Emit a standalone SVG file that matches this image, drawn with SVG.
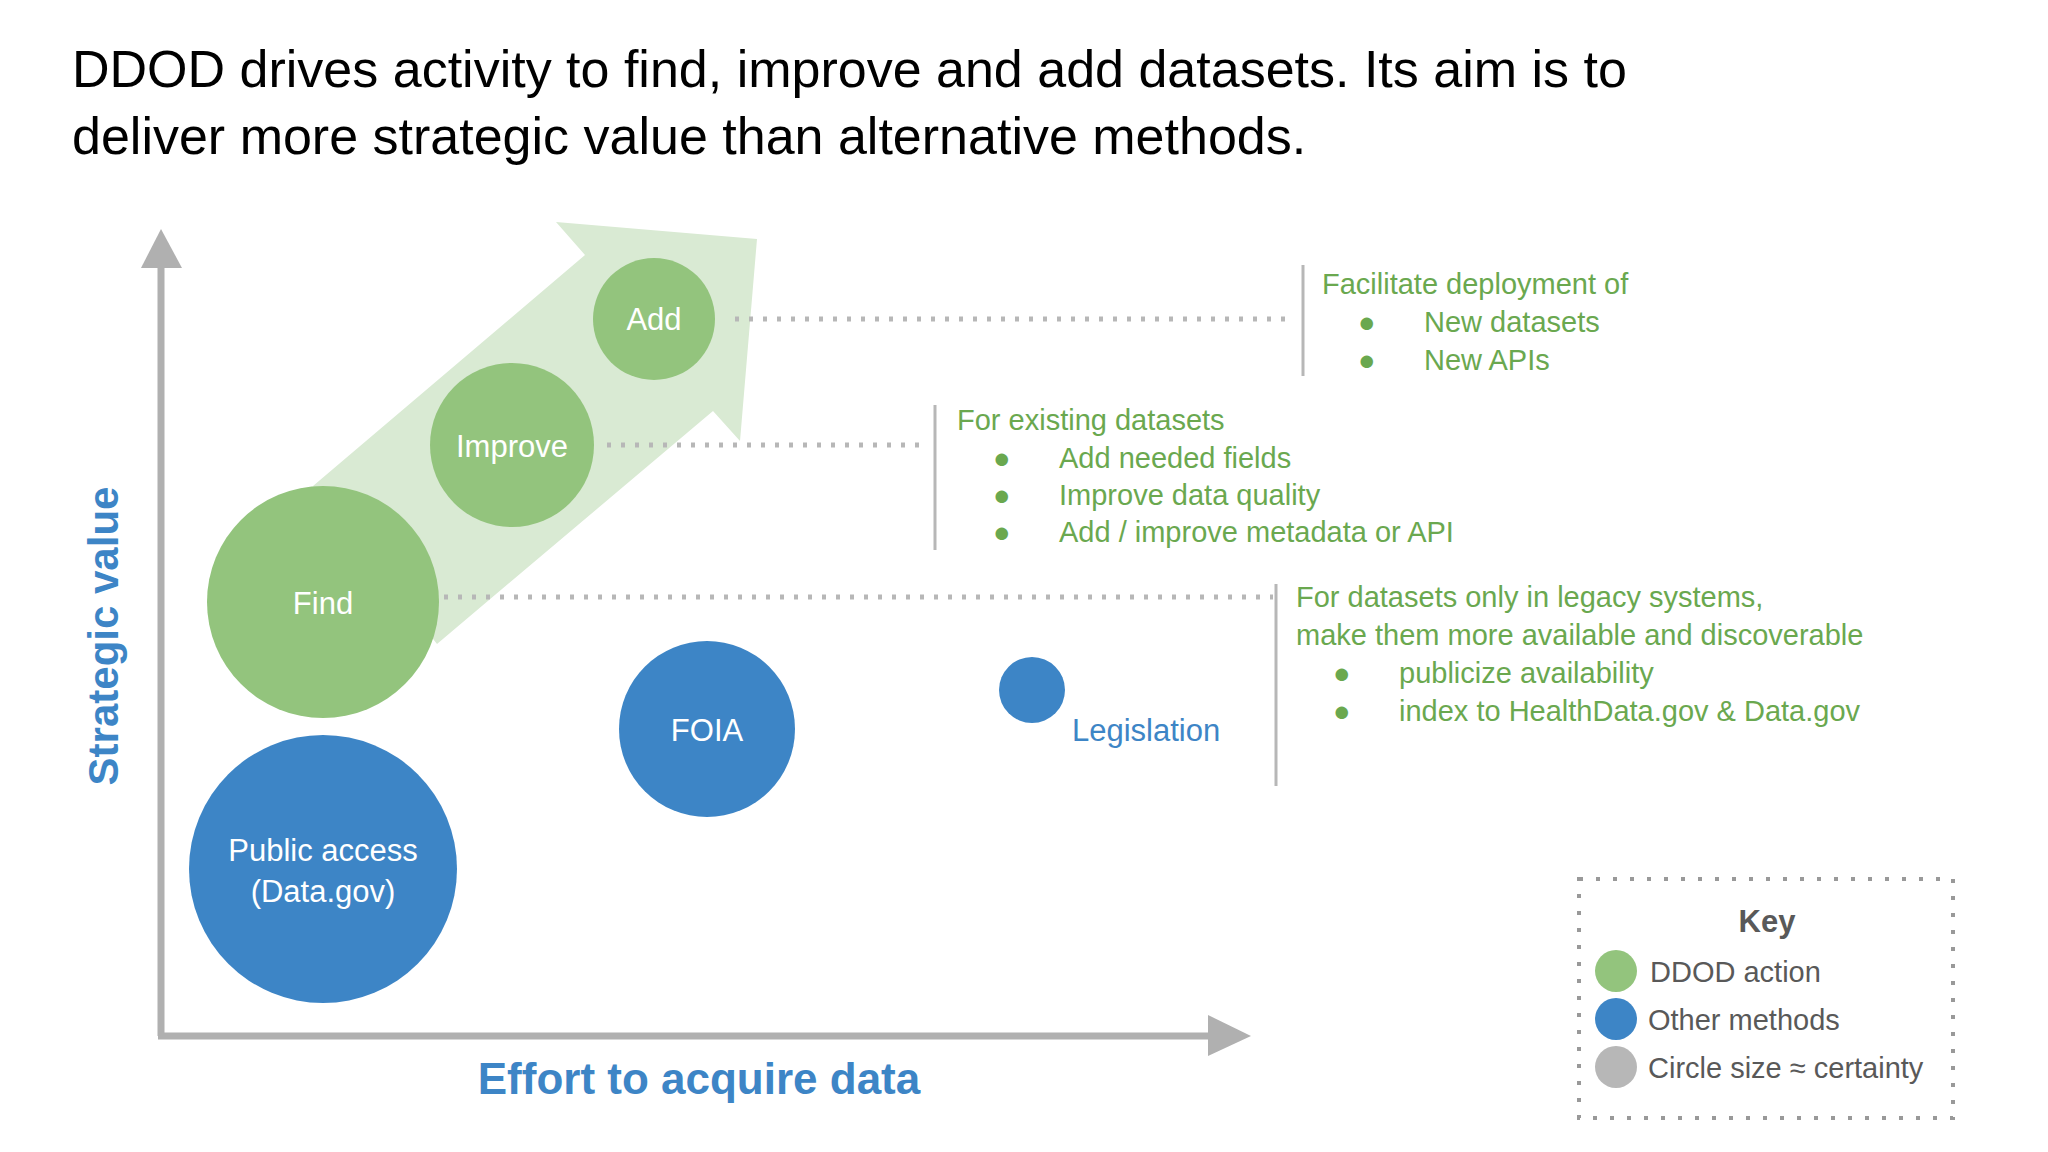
<svg xmlns="http://www.w3.org/2000/svg" width="2048" height="1152" viewBox="0 0 2048 1152">
<style>
text{font-family:"Liberation Sans",Arial,sans-serif}
.g{fill:#93c47d}.b{fill:#3d85c6}
.lbl{fill:#fff;font-size:31px;text-anchor:middle}
.gt{fill:#6aa84f;font-size:29px}
.dot{stroke:#b7b7b7;stroke-width:5;stroke-dasharray:4 10;fill:none}
.bar{stroke:#b7b7b7;stroke-width:3}
.kt{fill:#595959;font-size:29px}
</style>
<rect width="2048" height="1152" fill="#fff"/>
<text x="72" y="87" font-size="52" fill="#000">DDOD drives activity to find, improve and add datasets.  Its aim is to</text>
<text x="72" y="154" font-size="52" fill="#000">deliver more strategic value than alternative methods.</text>
<g id="axes">
<line x1="161" y1="262" x2="161" y2="1036" stroke="#b0b0b0" stroke-width="7"/>
<polygon points="141,268 161,229 182,268" fill="#b0b0b0"/>
<line x1="158" y1="1036" x2="1212" y2="1036" stroke="#b0b0b0" stroke-width="7"/>
<polygon points="1208,1015 1251,1036 1208,1056" fill="#b0b0b0"/>
<text x="0" y="0" transform="translate(118,636) rotate(-90)" font-size="42" font-weight="bold" fill="#3d85c6" text-anchor="middle">Strategic value</text>
<text x="699" y="1094" font-size="44" font-weight="bold" fill="#3d85c6" text-anchor="middle">Effort to acquire data</text>
</g>
<polygon id="arrow" points="313,486 585,255 556,222 757,239 740,441 713,411 437,644" fill="#d9ead3"/>
<g id="connectors">
<line class="dot" x1="735" y1="319" x2="1286" y2="319"/>
<line class="dot" x1="607" y1="445" x2="927" y2="445"/>
<line class="dot" x1="444" y1="597" x2="1273" y2="597"/>
<line class="bar" x1="1303" y1="265" x2="1303" y2="376"/>
<line class="bar" x1="935" y1="405" x2="935" y2="550"/>
<line class="bar" x1="1276" y1="584" x2="1276" y2="786"/>
</g>
<g id="add"><circle class="g" cx="654" cy="319" r="61"/><text class="lbl" x="654" y="330">Add</text></g>
<g id="improve"><circle class="g" cx="512" cy="445" r="82"/><text class="lbl" x="512" y="457">Improve</text></g>
<g id="find"><circle class="g" cx="323" cy="602" r="116"/><text class="lbl" x="323" y="614">Find</text></g>
<g id="foia"><circle class="b" cx="707" cy="729" r="88"/><text class="lbl" x="707" y="741">FOIA</text></g>
<g id="public"><circle class="b" cx="323" cy="869" r="134"/><text class="lbl" x="323" y="861">Public access</text><text class="lbl" x="323" y="902">(Data.gov)</text></g>
<g id="legislation"><circle class="b" cx="1032" cy="690" r="33"/><text x="1072" y="741" font-size="31" fill="#3d85c6">Legislation</text></g>
<g id="note-add">
<text class="gt" x="1322" y="294">Facilitate deployment of</text>
<text class="gt" x="1358" y="332">●</text><text class="gt" x="1424" y="332">New datasets</text>
<text class="gt" x="1358" y="370">●</text><text class="gt" x="1424" y="370">New APIs</text>
</g>
<g id="note-improve">
<text class="gt" x="957" y="430">For existing datasets</text>
<text class="gt" x="993" y="468">●</text><text class="gt" x="1059" y="468">Add needed fields</text>
<text class="gt" x="993" y="505">●</text><text class="gt" x="1059" y="505">Improve data quality</text>
<text class="gt" x="993" y="542">●</text><text class="gt" x="1059" y="542">Add / improve metadata or API</text>
</g>
<g id="note-find">
<text class="gt" x="1296" y="607">For datasets only in legacy systems,</text>
<text class="gt" x="1296" y="645">make them more available and discoverable</text>
<text class="gt" x="1333" y="683">●</text><text class="gt" x="1399" y="683">publicize availability</text>
<text class="gt" x="1333" y="721">●</text><text class="gt" x="1399" y="721">index to HealthData.gov &amp; Data.gov</text>
</g>
<g id="key">
<rect x="1579" y="879" width="374" height="239" fill="none" stroke="#999" stroke-width="4" stroke-dasharray="4 13"/>
<text x="1767" y="932" font-size="31" font-weight="bold" fill="#595959" text-anchor="middle">Key</text>
<circle cx="1616" cy="971" r="21" fill="#93c47d"/><text class="kt" x="1650" y="982">DDOD action</text>
<circle cx="1616" cy="1019" r="21" fill="#3d85c6"/><text class="kt" x="1648" y="1030">Other methods</text>
<circle cx="1616" cy="1067" r="21" fill="#b7b7b7"/><text class="kt" x="1648" y="1078">Circle size ≈ certainty</text>
</g>
</svg>
